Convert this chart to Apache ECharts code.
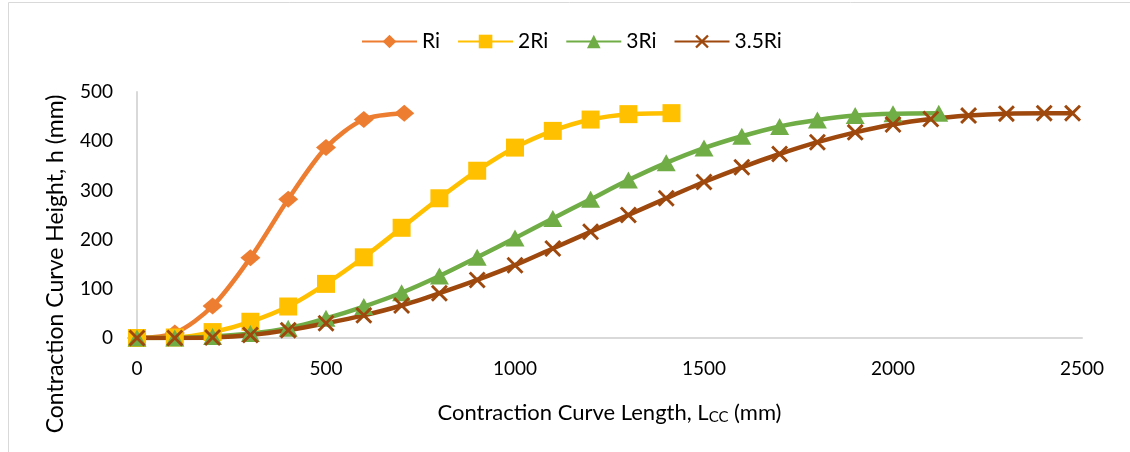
<!DOCTYPE html>
<html>
<head>
<meta charset="utf-8">
<script src="https://cdn.jsdelivr.net/npm/echarts@6/dist/echarts.min.js"></script>
<style>
  html, body { margin: 0; padding: 0; background: #fff; }
  #chart { width: 1130px; height: 452px; }
</style>
</head>
<body>
<div id="chart"></div>
<script>
// data (x = contraction curve length mm, y = height mm)
let riX = [0, 100, 200, 300, 400, 500, 600, 707];
let riY = [0, 10, 65, 163, 282, 387, 444, 457];

let ri2X = [0, 100, 200, 300, 400, 500, 600, 700, 800, 900, 1000, 1100, 1200, 1300, 1414];
let ri2Y = [0, 1, 12, 33, 64, 110, 164, 224, 284, 340, 387, 421, 444, 455, 457];

let ri3X = [0, 100, 200, 300, 400, 500, 600, 700, 800, 900, 1000, 1100, 1200, 1300, 1400, 1500, 1600, 1700, 1800, 1900, 2000, 2121];
let ri3Y = [0, 0, 3, 9, 20, 40, 64, 92, 126, 164, 203, 243, 282, 321, 356, 386, 410, 430, 443, 452, 456, 457];

let ri35X = [0, 100, 200, 300, 400, 500, 600, 700, 800, 900, 1000, 1100, 1200, 1300, 1400, 1500, 1600, 1700, 1800, 1900, 2000, 2100, 2200, 2300, 2400, 2475];
let ri35Y = [0, 0, 1, 6, 16, 30, 46, 66, 91, 118, 148, 182, 216, 250, 284, 317, 347, 374, 398, 418, 434, 445, 452, 456, 457, 457];

let names = ['Ri', '2Ri', '3Ri', '3.5Ri'];
let colors = ['#ED7D31', '#FFC000', '#70AD47', '#9E480E'];

function pairs(xs, ys) {
	return xs.map((x, i) => [x, ys[i]]);
}

let xMark = 'path://M0,1.2L1.2,0L5,3.8L8.8,0L10,1.2L6.2,5L10,8.8L8.8,10L5,6.2L1.2,10L0,8.8L3.8,5Z';

let FONT = 'Lato';

let myChart = echarts.init(document.getElementById('chart'));

let option = {
	animation: false,
	color: colors,
	textStyle: { fontFamily: FONT },
	graphic: [
		{
			type: 'rect',
			shape: { x: 8.5, y: 2.5, width: 1200, height: 600 },
			style: { fill: 'none', stroke: '#D9D9D9', lineWidth: 1 },
			silent: true
		}
	],
	legend: {
		top: 26,
		left: 356,
		itemWidth: 55,
		itemHeight: 17,
		itemGap: 17,
		textStyle: { fontFamily: FONT, fontSize: 21, color: '#000' },
		data: names
	},
	grid: {
		left: 137,
		right: 48,
		top: 92,
		bottom: 114
	},
	xAxis: {
		type: 'value',
		min: 0,
		max: 2500,
		interval: 500,
		name: 'Contraction Curve Length, L{sub|CC} (mm)',
		nameLocation: 'middle',
		nameGap: 62,
		nameTextStyle: {
			fontFamily: FONT,
			fontSize: 22,
			color: '#000',
			rich: {
				sub: { fontFamily: FONT, fontSize: 15, color: '#000', verticalAlign: 'bottom', padding: [10, 0, 0, 0] }
			}
		},
		axisLine: { show: true, lineStyle: { color: '#D9D9D9', width: 2 } },
		axisTick: { show: false },
		splitLine: { show: false },
		axisLabel: { fontFamily: FONT, fontSize: 19, color: '#000', margin: 21, formatter: v => String(v) }
	},
	yAxis: {
		type: 'value',
		min: 0,
		max: 500,
		interval: 100,
		name: 'Contraction Curve Height, h (mm)',
		nameLocation: 'middle',
		nameGap: 70,
		nameTextStyle: { fontFamily: FONT, fontSize: 23, color: '#000', padding: [0, 98, 0, 0] },
		axisLine: { show: true, lineStyle: { color: '#D9D9D9', width: 2 } },
		axisTick: { show: false },
		splitLine: { show: false },
		axisLabel: { fontFamily: FONT, fontSize: 19, color: '#000', margin: 24, formatter: v => String(v) }
	},
	series: [
		{
			name: 'Ri',
			type: 'line',
			smooth: 0.3,
			symbol: 'diamond',
			symbolSize: [20, 17],
			lineStyle: { width: 4.5 },
			data: pairs(riX, riY)
		},
		{
			name: '2Ri',
			type: 'line',
			smooth: 0.3,
			symbol: 'rect',
			symbolSize: 18,
			lineStyle: { width: 4.5 },
			data: pairs(ri2X, ri2Y)
		},
		{
			name: '3Ri',
			type: 'line',
			smooth: 0.3,
			symbol: 'triangle',
			symbolSize: [19, 17],
			lineStyle: { width: 4.5 },
			data: pairs(ri3X, ri3Y)
		},
		{
			name: '3.5Ri',
			type: 'line',
			smooth: 0.3,
			symbol: xMark,
			symbolSize: 17,
			lineStyle: { width: 4.5 },
			data: pairs(ri35X, ri35Y)
		}
	]
};

myChart.setOption(option);
</script>
</body>
</html>
